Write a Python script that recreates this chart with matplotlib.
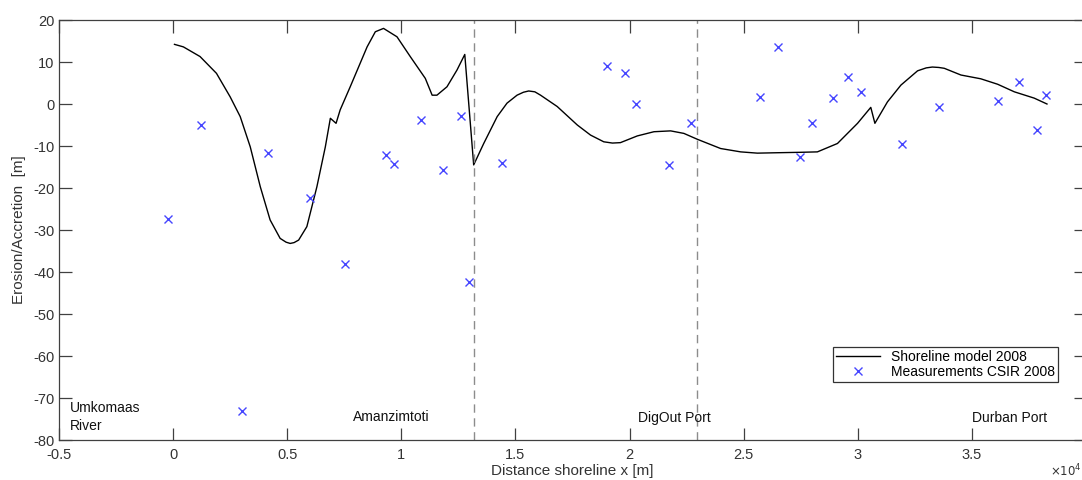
import numpy as np
import matplotlib
matplotlib.use('Agg')
import matplotlib.pyplot as plt
from matplotlib.ticker import FuncFormatter, MultipleLocator

plt.rcParams['font.family'] = ['Liberation Sans', 'DejaVu Sans']
plt.rcParams['axes.unicode_minus'] = False

# shoreline model 2008 (x in m, erosion/accretion in m)
model_x = [60, 450, 1180, 1900, 2500, 2940, 3380, 3820, 4250, 4690, 4950, 5130, 5300,
           5500, 5860, 6300, 6670, 6890, 7140, 7320, 7760, 8500, 8860, 9220, 9810,
           10390, 11050, 11350, 11560, 12000, 12440, 12780, 13170, 13610, 14200, 14630,
           15070, 15350, 15580, 15850, 16100, 16830, 17710, 18290, 18870, 19250, 19600,
           20340, 21070, 21800, 22380, 22970, 23990, 24870, 25600, 26500, 27500, 28230,
           29110, 29990, 30570, 30750, 31300, 31890, 32620, 33000, 33270, 33550, 33790,
           34520, 35390, 36130, 36860, 37730, 38290]
model_y = [14.2, 13.6, 11.3, 7.3, 1.7, -3.0, -10.2, -19.7, -27.6, -32.0, -32.9, -33.2,
           -33.0, -32.4, -29.2, -19.7, -10.2, -3.4, -4.6, -1.4, 4.1, 13.6, 17.2, 18.0,
           16.0, 11.3, 6.1, 2.1, 2.1, 4.1, 8.1, 11.8, -14.5, -9.4, -3.0, 0.2, 2.1, 2.8,
           3.1, 2.9, 2.1, -0.6, -5.0, -7.4, -9.0, -9.3, -9.2, -7.6, -6.6, -6.4, -7.0,
           -8.4, -10.6, -11.4, -11.7, -11.6, -11.5, -11.4, -9.4, -4.6, -0.8, -4.6, 0.5,
           4.5, 7.9, 8.6, 8.8, 8.7, 8.5, 6.9, 6.0, 4.7, 2.9, 1.4, 0.0]

# measurements CSIR 2008
meas_x = [-230, 1210, 4150, 5980, 7510, 3040, 9330, 9690, 10860, 11830, 12600, 12980,
          14390, 19020, 19820, 20290, 21740, 22710, 25700, 26520, 27460, 27980, 28900,
          29560, 30130, 31930, 33540, 36130, 37050, 37850, 38250]
meas_y = [-27.4, -5.0, -11.7, -22.3, -38.0, -73.2, -12.2, -14.4, -3.7, -15.8, -2.8,
          -42.3, -14.1, 9.0, 7.5, 0.1, -14.6, -4.5, 1.7, 13.6, -12.6, -4.5, 1.5, 6.4,
          2.9, -9.5, -0.6, 0.7, 5.2, -6.2, 2.1]

# section boundaries and place names
bound_x = [13200, 22940]
place_names = ['Umkomaas\nRiver', 'Amanzimtoti', 'DigOut Port', 'Durban Port']
place_x = [-4520, 7900, 20350, 35000]
place_y = [-74.5, -74.5, -74.8, -74.8]

W, H = 1082, 480
fig = plt.figure(figsize=(W / 100, H / 100), dpi=100)
ax = fig.add_axes([59 / W, 1 - 440 / H, (1086 - 59) / W, 420 / H])

ax.plot(model_x, model_y, color='black', linewidth=1.0, label='Shoreline model 2008')
ax.plot(meas_x, meas_y, linestyle='none', marker='x', color='#4646ff', markersize=6,
        markeredgewidth=1.0, label='Measurements CSIR 2008')
for bx in bound_x:
    ax.axvline(bx, color='#8c8c8c', linestyle=(0, (6, 4)), linewidth=1.0)

for name, px, py in zip(place_names, place_x, place_y):
    ax.text(px, py, name, fontsize=10, ha='left', va='center', color='#111111',
            linespacing=1.3)

ax.set_xlim(-5000, 40000)
ax.set_ylim(-80, 20)
ax.xaxis.set_major_locator(MultipleLocator(5000))
ax.yaxis.set_major_locator(MultipleLocator(10))
# the 4 x 10^4 label falls outside the picture, as in the original
ax.xaxis.set_major_formatter(FuncFormatter(lambda v, p: '%g' % (v / 1e4) if v < 37500 else ''))

gc = '#404040'
for s in ax.spines.values():
    s.set_color(gc)
    s.set_linewidth(0.9)
ax.tick_params(direction='in', length=9, width=0.9, colors=gc, labelsize=10.5,
               top=True, right=True, labelcolor='#333333')
ax.tick_params(axis='x', pad=6)

ax.set_xlabel('Distance shoreline x [m]', fontsize=11, color='#333333', labelpad=1)
ax.set_ylabel('Erosion/Accretion  [m]', fontsize=11, color='#333333', labelpad=5)
fig.text(1050 / W, 1 - 471 / H, r'$\times10^{4}$', fontsize=8.5, color='#333333',
         ha='left', va='center')

leg = ax.legend(loc='lower right', bbox_to_anchor=(0.973, 0.138), fontsize=10,
                fancybox=False, framealpha=1, edgecolor='#333333', borderpad=0.2,
                handlelength=3.2, labelspacing=0.1, borderaxespad=0)
leg.get_frame().set_linewidth(0.9)

fig.savefig('out.png', dpi=100)
